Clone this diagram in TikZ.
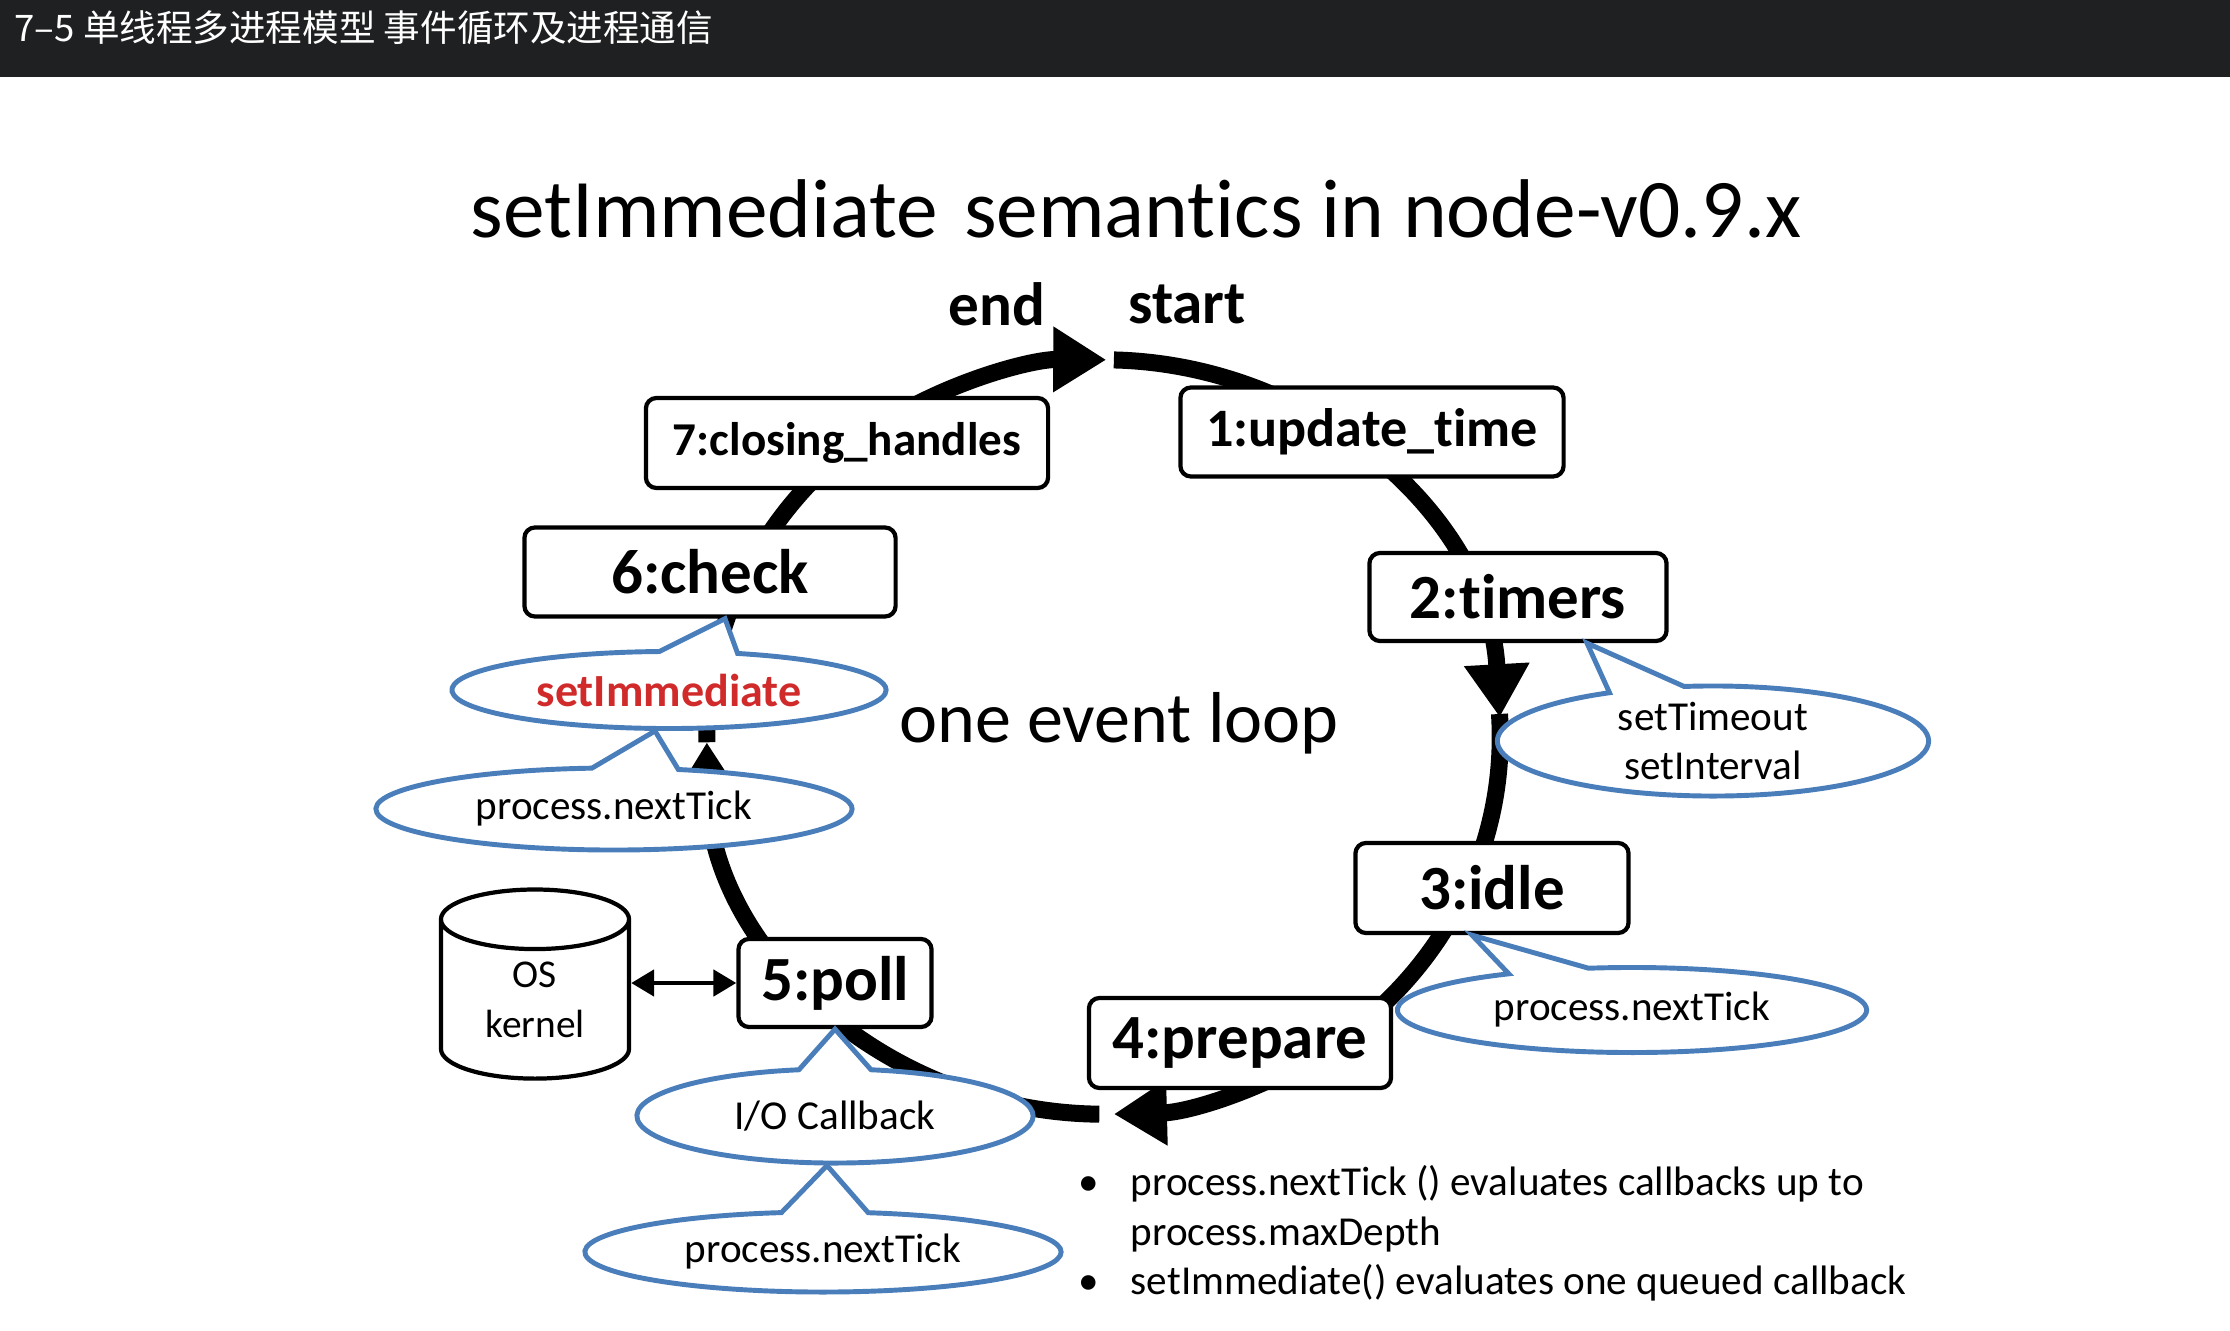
\documentclass[tikz,border=0pt]{standalone}
\usepackage{fontspec}
\setmainfont{Carlito}[Ligatures=NoCommon]
\newfontfamily\cjk{Noto Sans CJK SC}
\usetikzlibrary{arrows.meta, shapes.geometric, shapes.callouts, calc}
\definecolor{azulglobo}{HTML}{4A7EBB}
\definecolor{rojoinmediato}{HTML}{D02A2A}
\definecolor{grisbarra}{HTML}{1F2022}
\colorlet{colGlobo}{azulglobo}
\colorlet{colRojo}{rojoinmediato}
\colorlet{colBarra}{grisbarra}
\tikzset{
  cajaFase/.style={
    draw=black, line width=1.2pt, rounded corners=3pt,
    fill=white, inner sep=0pt, minimum height=0.89cm,
    font=\fontsize{17.9}{21}\selectfont\bfseries
  },
  cajaFaseChica/.style={cajaFase, font=\fontsize{15.4}{18}\selectfont\bfseries},
  globo/.style={
    ellipse callout, callout pointer arc=21,
    draw=colGlobo, line width=1.4pt, fill=white, inner sep=0pt,
    font=\fontsize{11.7}{14.2}\selectfont
  },
  cilindro/.style={
    cylinder, shape border rotate=90, aspect=0.6,
    draw=black, line width=1.2pt, fill=white, inner sep=0pt,
    align=center, font=\fontsize{11.2}{14.2}\selectfont
  },
  flechaLazo/.style={-{Triangle[length=5.3mm, width=6.2mm]}, line width=1.7mm},
  flechaDoble/.style={{Triangle[length=2.3mm, width=2.6mm]}-{Triangle[length=2.3mm, width=2.6mm]}, line width=1.4pt},
  textoNota/.style={font=\fontsize{11.7}{14.2}\selectfont, inner sep=0pt},
}
\begin{document}
\begin{tikzpicture}[x=0.01cm, y=-0.01cm]
  \useasboundingbox (0,0) rectangle (2230,1330);
  \fill[white] (0,0) rectangle (2230,1330);
  % barra superior
  \fill[colBarra] (0,0) rectangle (2230,77);
  \node[anchor=west, text=white, inner sep=0pt, font=\cjk\fontsize{10.4}{12.5}\selectfont] (encabezado) at (14,28) {7–5 单线程多进程模型 事件循环及进程通信};
  \node[font=\fontsize{23.7}{28}\selectfont] (titulo) at (1136,209) {setImmediate\hspace{0.31em}semantics in node-v0.9.x};
  \node[font=\fontsize{17.4}{21}\selectfont\bfseries] (fin) at (997,304) {end};
  \node[font=\fontsize{17.4}{21}\selectfont\bfseries] (inicio) at (1187,304) {start};
  % el lazo
  \coordinate (centro) at (1103.5,737);
  \draw[flechaLazo] (centro) ++(88.5:3.965cm and 3.77cm) arc[start angle=88.5, end angle=3, x radius=3.965cm, y radius=3.77cm];
  \draw[flechaLazo] (centro) ++(3.5:3.965cm and 3.77cm) arc[start angle=3.5, end angle=-88.5, x radius=3.965cm, y radius=3.77cm];
  \draw[flechaLazo] (centro) ++(-90.6:3.965cm and 3.77cm) arc[start angle=-90.6, end angle=-179.2, x radius=3.965cm, y radius=3.77cm];
  \draw[flechaLazo] (centro) ++(180.8:3.965cm and 3.77cm) arc[start angle=180.8, end angle=89.6, x radius=3.965cm, y radius=3.77cm];
  \node[font=\fontsize{20.5}{24}\selectfont] (lazo) at (1119,723) {one event loop};
  % fases
  \node[cajaFase, minimum width=4.02cm, minimum height=0.90cm, font=\fontsize{13.4}{16}\selectfont\bfseries] (cierre) at (847,443) {7:closing\_handles};
  \node[cajaFaseChica, minimum width=3.83cm] (actualiza) at (1372,432) {1:update\_time};
  \node[cajaFase, minimum width=3.71cm] (check) at (710,572) {6:check};
  \node[cajaFase, minimum width=2.97cm, minimum height=0.88cm] (timers) at (1518,597) {2:timers};
  \node[cajaFase, minimum width=2.73cm, minimum height=0.90cm] (idle) at (1492,888) {3:idle};
  \node[cajaFase, minimum width=3.02cm, minimum height=0.90cm] (prepare) at (1240,1043) {4:prepare};
  \node[cajaFase, minimum width=1.93cm, minimum height=0.88cm] (poll) at (835,983) {5:poll};
  % globos
  \node[globo, minimum width=4.34cm, minimum height=0.77cm,
        callout absolute pointer={($(check.south)+(15,0)$)},
        text=colRojo, font=\fontsize{13.1}{16}\selectfont\bfseries] (inmediato) at (669,690) {setImmediate};
  \node[globo, minimum width=4.76cm, minimum height=0.82cm,
        callout absolute pointer={($(inmediato.south)+(-14,0)$)}] (tickIzq) at (614,809) {process.nextTick};
  \node[globo, minimum width=4.31cm, minimum height=1.10cm,
        callout absolute pointer={($(timers.south)+(69,0)$)},
        label={[textoNota, align=center]center:setTimeout\\setInterval}] (timeout) at (1713,741) {};
  \node[globo, minimum width=4.69cm, minimum height=0.85cm,
        callout absolute pointer={($(idle.south)+(-20,0)$)}] (tickDer) at (1632,1010) {process.nextTick};
  \node[globo, minimum width=3.96cm, minimum height=0.94cm,
        callout absolute pointer={(poll.south)}] (ioCallback) at (835,1116) {I/O Callback};
  \node[globo, minimum width=4.76cm, minimum height=0.80cm,
        callout absolute pointer={($(ioCallback.south)+(-8,0)$)}] (tickAbajo) at (823,1252) {process.nextTick};
  % nucleo del SO
  \node[cilindro, minimum width=1.88cm, minimum height=1.89cm] (kernel) at (535,1000) {OS\\kernel};
  \draw[flechaDoble] (kernel.east |- poll) -- (poll);
  % notas
  \node[textoNota, anchor=west] (notas) at (1078,1235) {%
    \begin{tabular}{@{}l@{\hspace{9pt}}l@{}}
      • & process.nextTick () evaluates callbacks up to\\
        & process.maxDepth\\
      • & setImmediate() evaluates one queued callback
    \end{tabular}};
\end{tikzpicture}
\end{document}
